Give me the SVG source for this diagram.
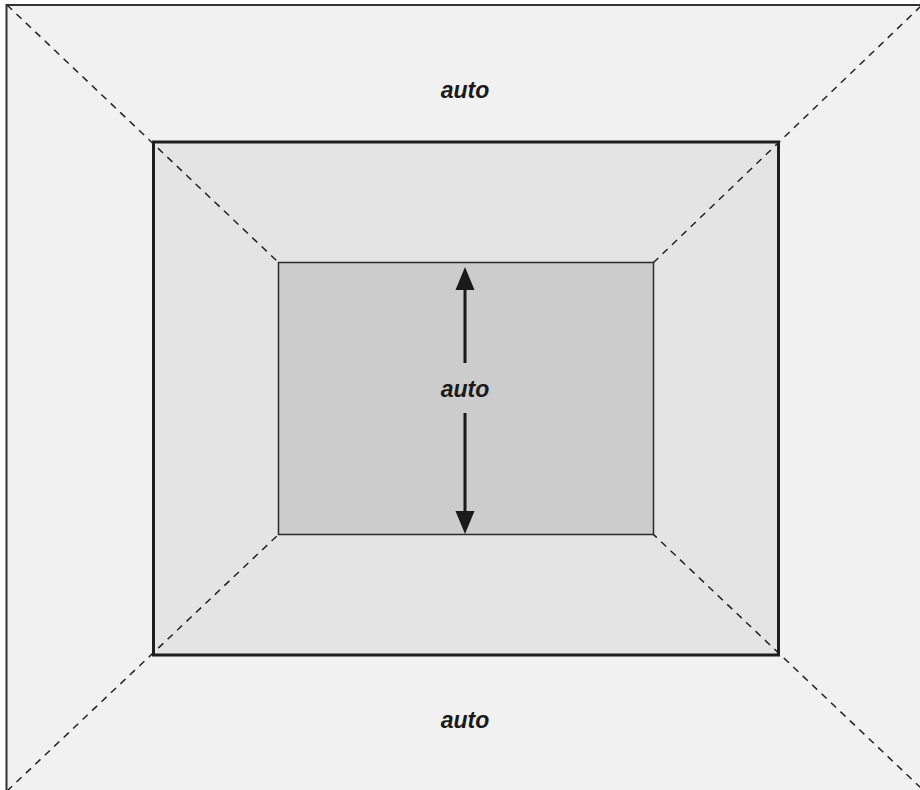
<svg xmlns="http://www.w3.org/2000/svg" width="920" height="790" viewBox="0 0 920 790">
<style>
.lbl{font-family:"Liberation Sans",Arial,sans-serif;font-weight:bold;font-style:italic;font-size:23px;fill:#1a1a1a;text-anchor:middle}
.dash{stroke:#222;stroke-width:1.5;stroke-dasharray:7,6;fill:none}
</style>
<defs>
<marker id="ah" viewBox="0 0 10 10" refX="10" refY="5" markerWidth="10" markerHeight="10" markerUnits="userSpaceOnUse" orient="auto">
<path d="M0,0 L10,5 L0,10 z" fill="#1a1a1a"/>
</marker>
</defs>
<rect width="920" height="790" fill="#ffffff"/>
<g id="outer">
<rect x="6.5" y="5" width="920" height="800" fill="#f1f1f1" stroke="#333" stroke-width="2"/>
</g>
<g id="border">
<rect x="153.5" y="142" width="625" height="513" fill="#e4e4e4" stroke="#1e1e1e" stroke-width="3"/>
</g>
<g id="content">
<rect x="278.5" y="262.5" width="375" height="272" fill="#cccccc" stroke="#2a2a2a" stroke-width="1.5"/>
</g>
<g id="connectors">
<line class="dash" x1="7" y1="5" x2="278.5" y2="262.5"/>
<line class="dash" x1="921" y1="6" x2="653.5" y2="262.5"/>
<line class="dash" x1="7" y1="791" x2="278.5" y2="534.5"/>
<line class="dash" x1="921" y1="788" x2="653.5" y2="534.5"/>
<line x1="465" y1="363" x2="465" y2="290" stroke="#1a1a1a" stroke-width="3"/>
<path d="M465,267 L455.5,290 L474.5,290 z" fill="#1a1a1a"/>
<line x1="465" y1="413" x2="465" y2="511" stroke="#1a1a1a" stroke-width="3"/>
<path d="M465,534 L455.5,511 L474.5,511 z" fill="#1a1a1a"/>
</g>
<g id="labels">
<text class="lbl" x="465" y="98">auto</text>
<text class="lbl" x="465" y="397">auto</text>
<text class="lbl" x="465" y="728">auto</text>
</g>
</svg>
